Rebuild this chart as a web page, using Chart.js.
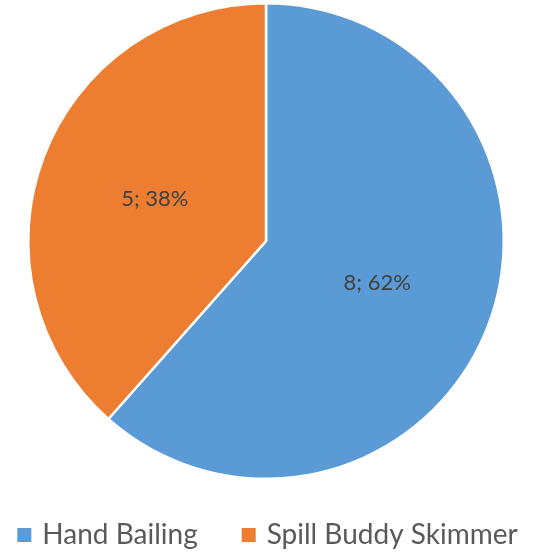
<!DOCTYPE html>
<html>
<head>
<meta charset="utf-8">
<script src="https://cdn.jsdelivr.net/npm/chart.js@4/dist/chart.umd.min.js"></script>
<style>
  html, body { margin: 0; padding: 0; background: #ffffff; }
  #wrap { width: 535px; height: 554px; }
</style>
</head>
<body>
<div id="wrap"><canvas id="pieChart"></canvas></div>
<script>
const categories = ['Hand Bailing', 'Spill Buddy Skimmer']
const counts = [8, 5]
const colors = ['#5B9BD5', '#ED7D31']

// draws "8; 62%" style labels in the middle of each slice
const sliceLabels = {
    id: 'sliceLabels',
    afterDatasetsDraw(chart) {
        const ctx = chart.ctx
        const meta = chart.getDatasetMeta(0)
        const total = counts.reduce((a, b) => a + b, 0)
        ctx.save()
        ctx.font = '22px Lato'
        ctx.fillStyle = '#404040'
        ctx.textAlign = 'center'
        ctx.textBaseline = 'middle'
        meta.data.forEach(function(arc, i) {
            const pos = arc.tooltipPosition()
            const pct = Math.round(counts[i] / total * 100)
            ctx.fillText(counts[i] + '; ' + pct + '%', pos.x, pos.y)
        })
        ctx.restore()
    }
}

// single row legend under the pie, wide gap between the two entries
const bottomLegend = {
    id: 'bottomLegend',
    afterDraw(chart) {
        const ctx = chart.ctx
        const box = 14, textGap = 11, itemGap = 44
        const baseline = 544
        ctx.save()
        ctx.font = '28px Lato'
        ctx.textBaseline = 'alphabetic'
        ctx.textAlign = 'left'
        var widths = categories.map(c => box + textGap + ctx.measureText(c).width)
        var total = widths.reduce((a, b) => a + b, 0) + itemGap * (categories.length - 1)
        var x = (chart.width - total) / 2
        categories.forEach(function(c, i) {
            ctx.fillStyle = colors[i]
            ctx.fillRect(x, baseline - 16, box, box)
            ctx.fillStyle = '#595959'
            ctx.fillText(c, x + box + textGap, baseline)
            x += widths[i] + itemGap
        })
        ctx.restore()
    }
}

var ctx = document.getElementById('pieChart')
new Chart(ctx, {
    type: 'pie',
    data: {
        labels: categories,
        datasets: [
            {
                data: counts,
                backgroundColor: colors,
                borderColor: '#ffffff',
                borderWidth: 2.5,
                hoverOffset: 0
            }
        ]
    },
    options: {
        responsive: true,
        maintainAspectRatio: false,
        animation: false,
        layout: {
            padding: { top: 2, right: 3, bottom: 74 }
        },
        plugins: {
            tooltip: { enabled: false },
            legend: { display: false }
        }
    },
    plugins: [sliceLabels, bottomLegend]
});
</script>
</body>
</html>
